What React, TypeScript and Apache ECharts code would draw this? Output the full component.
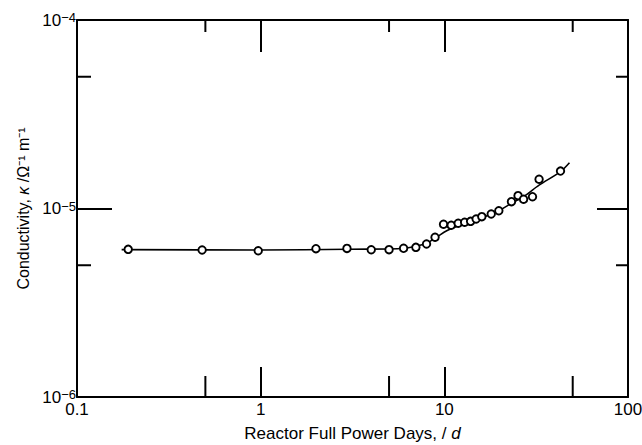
import React, { useEffect, useRef } from "react";
import * as echarts from "echarts";

const days = [0.19, 0.48, 0.97, 2.0, 2.95, 4.0, 5.0, 6.0, 7.0, 8.0, 8.9, 9.9, 10.9, 11.9, 12.9, 13.9, 14.9, 16.0, 18.0, 19.8, 23.2, 25.2, 27.0, 30.2, 32.8, 42.9];
const conductivity = [6.07e-6, 6.02e-6, 5.97e-6, 6.12e-6, 6.14e-6, 6.04e-6, 6.05e-6, 6.15e-6, 6.22e-6, 6.48e-6, 7.04e-6, 8.25e-6, 8.15e-6, 8.35e-6, 8.45e-6, 8.55e-6, 8.8e-6, 9.05e-6, 9.35e-6, 9.73e-6, 1.087e-5, 1.17e-5, 1.12e-5, 1.155e-5, 1.43e-5, 1.58e-5];

const fitDays = [0.175, 1, 3, 5, 6, 7, 8, 9, 10.3, 11.9, 14.9, 19.8, 23.2, 27, 32.8, 42.9, 48];
const fitConductivity = [6.05e-6, 6.02e-6, 6.08e-6, 6.1e-6, 6.15e-6, 6.3e-6, 6.55e-6, 7.0e-6, 7.62e-6, 8.08e-6, 8.69e-6, 9.73e-6, 1.066e-5, 1.155e-5, 1.33e-5, 1.57e-5, 1.75e-5];

const xTickLabels = ["0.1", "1", "10", "100"];
const yTickExponents = ["−6", "−5", "−4"];
const xMinorTicks = [0.5, 5, 50];
const yMinorTicks = [5e-6, 5e-5];
const X_MIN = 0.1;
const X_MAX = 100;
const Y_MIN = 1e-6;
const Y_MAX = 1e-4;

const FONT = "'Liberation Sans', Arial, Helvetica, sans-serif";

export default function App() {
  const ref = useRef<HTMLDivElement>(null);
  useEffect(() => {
    if (!ref.current) return;
    const chart = echarts.init(ref.current, null, { renderer: "svg" });
    const minorData: number[][] = [];
    xMinorTicks.forEach((v) => {
      minorData.push([v, Y_MIN, 0]);
      minorData.push([v, Y_MAX, 1]);
    });
    yMinorTicks.forEach((v) => {
      minorData.push([X_MIN, v, 2]);
      minorData.push([X_MAX, v, 3]);
    });
    const axisLine = { show: true, lineStyle: { color: "#000", width: 2 } };
    chart.setOption({
      animation: false,
      backgroundColor: "#fff",
      textStyle: { fontFamily: FONT, color: "#000" },
      grid: { left: 77, right: 14, top: 20, bottom: 48, containLabel: false, outerBoundsMode: "none" },
      xAxis: [
        {
          type: "log",
          logBase: 10,
          min: X_MIN,
          max: X_MAX,
          position: "bottom",
          axisLine,
          axisTick: { show: true, inside: true, length: 30, lineStyle: { color: "#000", width: 2 } },
          splitLine: { show: false },
          axisLabel: {
            color: "#000",
            fontSize: 17,
            fontFamily: FONT,
            margin: 4,
            formatter: (v: number) => xTickLabels[Math.round(Math.log10(v)) + 1],
          },
          name: "{a|Reactor Full Power Days, / }{i|d}",
          nameLocation: "middle",
          nameGap: 28,
          nameTextStyle: {
            fontSize: 17,
            rich: {
              a: { fontSize: 17, fontFamily: FONT, color: "#000" },
              i: { fontSize: 17, fontFamily: FONT, color: "#000", fontStyle: "italic" },
            },
          },
        },
        {
          type: "log",
          logBase: 10,
          min: X_MIN,
          max: X_MAX,
          position: "top",
          axisLine,
          axisTick: { show: true, inside: true, length: 32, lineStyle: { color: "#000", width: 2 } },
          axisLabel: { show: false },
          splitLine: { show: false },
        },
      ],
      yAxis: [
        {
          type: "log",
          logBase: 10,
          min: Y_MIN,
          max: Y_MAX,
          position: "left",
          axisLine,
          axisTick: { show: true, inside: true, length: 35, lineStyle: { color: "#000", width: 2 } },
          splitLine: { show: false },
          axisLabel: {
            margin: 1,
            fontSize: 17,
            color: "#000",
            fontFamily: FONT,
            formatter: (v: number) => `{base|10}{sup|${yTickExponents[Math.round(Math.log10(v)) + 6]}}`,
            rich: {
              base: { fontSize: 17, fontFamily: FONT, color: "#000", lineHeight: 18 },
              sup: { fontSize: 13, fontFamily: FONT, color: "#000", verticalAlign: "top", lineHeight: 10 },
            },
          },
          name: "{a|Conductivity, }{i|κ}{a| /Ω⁻¹ m⁻¹}",
          nameLocation: "middle",
          nameGap: 45,
          nameRotate: 90,
          nameTextStyle: {
            fontSize: 16,
            rich: {
              a: { fontSize: 16, fontFamily: FONT, color: "#000" },
              i: { fontSize: 16, fontFamily: FONT, color: "#000", fontStyle: "italic" },
            },
          },
        },
        {
          type: "log",
          logBase: 10,
          min: Y_MIN,
          max: Y_MAX,
          position: "right",
          axisLine,
          axisTick: { show: true, inside: true, length: 31, lineStyle: { color: "#000", width: 2 } },
          axisLabel: { show: false },
          splitLine: { show: false },
        },
      ],
      series: [
        {
          type: "line",
          xAxisIndex: 0,
          yAxisIndex: 0,
          data: fitDays.map((d, i) => [d, fitConductivity[i]]),
          smooth: 0.3,
          showSymbol: false,
          symbol: "none",
          lineStyle: { color: "#000", width: 1.6 },
          silent: true,
          z: 2,
        },
        {
          type: "scatter",
          xAxisIndex: 0,
          yAxisIndex: 0,
          data: days.map((d, i) => [d, conductivity[i]]),
          symbol: "circle",
          symbolSize: 7.5,
          itemStyle: { color: "#fff", borderColor: "#000", borderWidth: 1.9, opacity: 1 },
          z: 3,
        },
        {
          type: "custom",
          xAxisIndex: 0,
          yAxisIndex: 0,
          silent: true,
          clip: false,
          data: minorData,
          renderItem: (params: any, api: any) => {
            const p = api.coord([api.value(0), api.value(1)]);
            const dir = api.value(2);
            let x2 = p[0];
            let y2 = p[1];
            if (dir === 0) y2 = p[1] - 21;
            else if (dir === 1) y2 = p[1] + 12;
            else if (dir === 2) x2 = p[0] + 14;
            else x2 = p[0] - 12;
            return {
              type: "line",
              shape: { x1: p[0], y1: p[1], x2, y2 },
              style: { stroke: "#000", lineWidth: 2 },
            };
          },
          z: 4,
        },
      ],
    });
    return () => chart.dispose();
  }, []);
  return (
    <div
      ref={ref}
      style={{ position: "fixed", left: 0, top: 0, width: 642, height: 445, background: "#fff" }}
    />
  );
}
